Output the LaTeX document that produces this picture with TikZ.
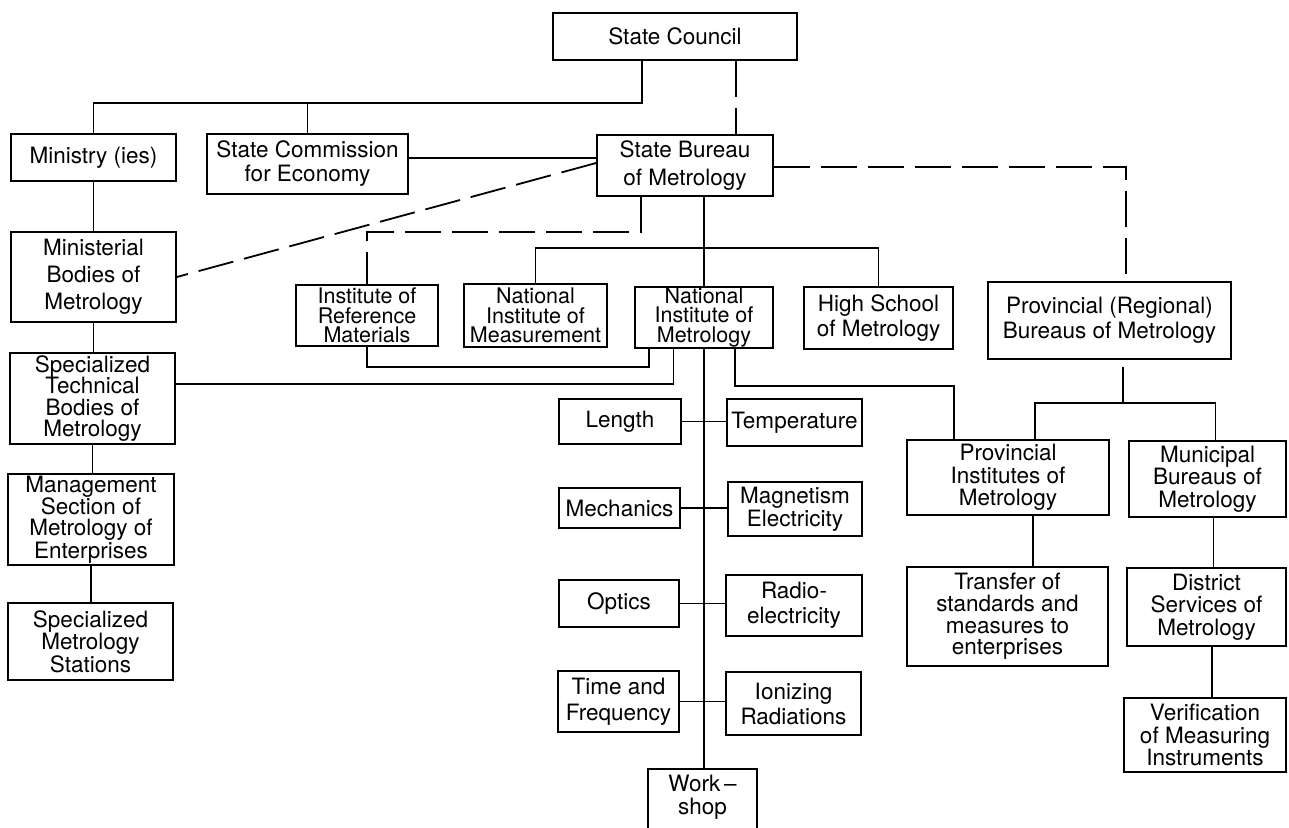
\documentclass[tikz,border=0pt]{standalone}
\usepackage{fontspec}
\setmainfont{TeX Gyre Heros}
\begin{document}
\begin{tikzpicture}[x=1pt,y=-1pt,
  box/.style={draw, line width=1.7pt, inner sep=0pt, align=center, font=\fontsize{22.5}{24}\selectfont},
  ls/.style={font=\fontsize{22.5}{#1}\selectfont},
  tight/.style={font=\fontsize{21.5}{19.5}\selectfont},
  wh/.style 2 args={minimum width=#1pt, minimum height=#2pt},
  ln/.style={line width=1.8pt},
  dsh/.style={line width=1.8pt, dash pattern=on 36pt off 11pt}]
\useasboundingbox (0,0) rectangle (1289,827);
% boxes
\node[box,wh={244}{47}] (sc) at (675,36.5) {State Council};
\node[box,wh={165}{47}] (min) at (93.5,157.5) {Ministry (ies)};
\node[box,wh={201}{60},ls=24] (com) at (307.5,164) {State Commission\\for Economy};
\node[box,wh={176}{61},ls=28] (sbm) at (685,165.5) {State Bureau\\of Metrology};
\node[box,wh={165}{90},ls=27] (mbm) at (93.5,277) {Ministerial\\Bodies of\\Metrology};
\node[box,wh={142}{61},tight] (irm) at (367,315.5) {Institute of\\Reference\\Materials};
\node[box,wh={143}{63},tight] (nim) at (535.5,315.5) {National\\Institute of\\Measurement};
\node[box,wh={138}{61},tight] (nimet) at (704,317.5) {National\\Institute of\\Metrology};
\node[box,wh={149}{62},ls=25] (hsm) at (878.5,318) {High School\\of Metrology};
\node[box,wh={243}{77},ls=25] (prb) at (1109.5,320.5) {Provincial (Regional)\\Bureaus of Metrology};
\node[box,wh={165}{91},ls=21.5] (stb) at (92.5,398.5) {Specialized\\Technical\\Bodies of\\Metrology};
\node[box,wh={166}{91},ls=21] (msm) at (91,519.5) {Management\\Section of\\Metrology of\\Enterprises};
\node[box,wh={165}{77},ls=22.5] (sms) at (90.5,641.5) {Specialized\\Metrology\\Stations};
\node[box,wh={122}{45}] (len) at (620,421.5) {Length};
\node[box,wh={135}{47}] (tmp) at (794.5,422.5) {Temperature};
\node[box,wh={121}{40}] (mec) at (619.5,508) {Mechanics};
\node[box,wh={134}{54},ls=23] (mag) at (795,509) {Magnetism\\Electricity};
\node[box,wh={120}{47}] (opt) at (619,603.5) {Optics};
\node[box,wh={136}{61},ls=25] (rad) at (794,605.5) {Radio-\\electricity};
\node[box,wh={121}{61},ls=26] (tf) at (618.5,701.5) {Time and\\Frequency};
\node[box,wh={135}{63},ls=25] (ion) at (793.5,703.5) {Ionizing\\Radiations};
\node[box,draw=none,wh={107}{54},ls=23] (ws) at (702.5,797) {Work\,--\\shop};
\node[box,wh={202}{75},ls=22.5] (pim) at (1008,477.5) {Provincial\\Institutes of\\Metrology};
\node[box,wh={157}{76},ls=22.5] (mub) at (1207.5,479) {Municipal\\Bureaus of\\Metrology};
\node[box,wh={201}{99},ls=21.7] (tsm) at (1007.5,616.5) {Transfer of\\standards and\\measures to\\enterprises};
\node[box,wh={159}{78},ls=22.5] (dsm) at (1206.5,607) {District\\Services of\\Metrology};
\node[box,wh={162}{74},ls=22.5] (vmi) at (1205,735) {Verification\\of Measuring\\Instruments};
% workshop open box
\draw[line width=1.7pt] ([yshift=-40pt]ws.south west) -- (ws.north west) -- (ws.north east) -- ([yshift=-40pt]ws.south east);
% connectors
\coordinate (j1) at (642,103);
\draw[ln] (sc.south -| j1) -- (j1) -- (j1 -| min.north) -- (min.north);
\draw[ln] (j1 -| com.north) -- (com.north);
\coordinate (d1) at (736,0);
\draw[dsh] (sc.south -| d1) -- (sbm.north -| d1);
\coordinate (h1) at (0,158);
\draw[ln] (com.east |- h1) -- (sbm.west |- h1);
\coordinate (h2) at (0,163);
\draw[dsh] (sbm.west |- h2) -- (mbm.east);
\coordinate (j2) at (641,232);
\draw[dsh] (sbm.south -| j2) -- (j2) -- (j2 -| irm.north) -- (irm.north);
\coordinate (j3) at (1126,167);
\draw[dsh] (sbm.east |- j3) -- (j3) -- (prb.north -| j3);
\coordinate (j4) at (0,248);
\draw[ln] (sbm.south -| nimet.north) -- (nimet.north);
\draw[ln] (nim.north) -- (nim.north |- j4) -- (hsm.north |- j4) -- (hsm.north);
\coordinate (k1) at (649,367);
\draw[ln] (nimet.south -| k1) -- (k1) -- (k1 -| irm.south) -- (irm.south);
\coordinate (k2) at (673.5,384);
\draw[ln] (nimet.south -| k2) -- (k2) -- (k2 -| stb.east);
\coordinate (k3) at (735,386);
\coordinate (k4) at (954,386);
\draw[ln] (nimet.south -| k3) -- (k3) -- (k4) -- (pim.north -| k4);
\draw[ln] (nimet.south) -- (nimet.south |- ws.north);
\draw[ln] (len.east) -- (len.east -| tmp.west);
\draw[ln] (mec.east) -- (mec.east -| mag.west);
\draw[ln] (opt.east) -- (opt.east -| rad.west);
\draw[ln] (tf.east) -- (tf.east -| ion.west);
\draw[ln] (min.south) -- (mbm.north);
\draw[ln] (mbm.south) -- (mbm.south |- stb.north);
\draw[ln] (stb.south) -- (stb.south |- msm.north);
\draw[ln] (msm.south) -- (msm.south |- sms.north);
\coordinate (p1) at (1122.6,402.7);
\draw[ln, shorten <=7pt] (prb.south -| p1) -- (p1);
\coordinate (p2) at (1035,402.7);
\coordinate (p3) at (1215.5,402.7);
\draw[ln] (pim.north -| p2) -- (p2) -- (p3) -- (mub.north -| p3);
\coordinate (q1) at (1033,0);
\draw[ln] (pim.south -| q1) -- (tsm.north -| q1);
\coordinate (q2) at (1213.5,0);
\draw[ln] (mub.south -| q2) -- (dsm.north -| q2);
\coordinate (q3) at (1212,0);
\draw[ln] (dsm.south -| q3) -- (vmi.north -| q3);
\end{tikzpicture}
\end{document}
